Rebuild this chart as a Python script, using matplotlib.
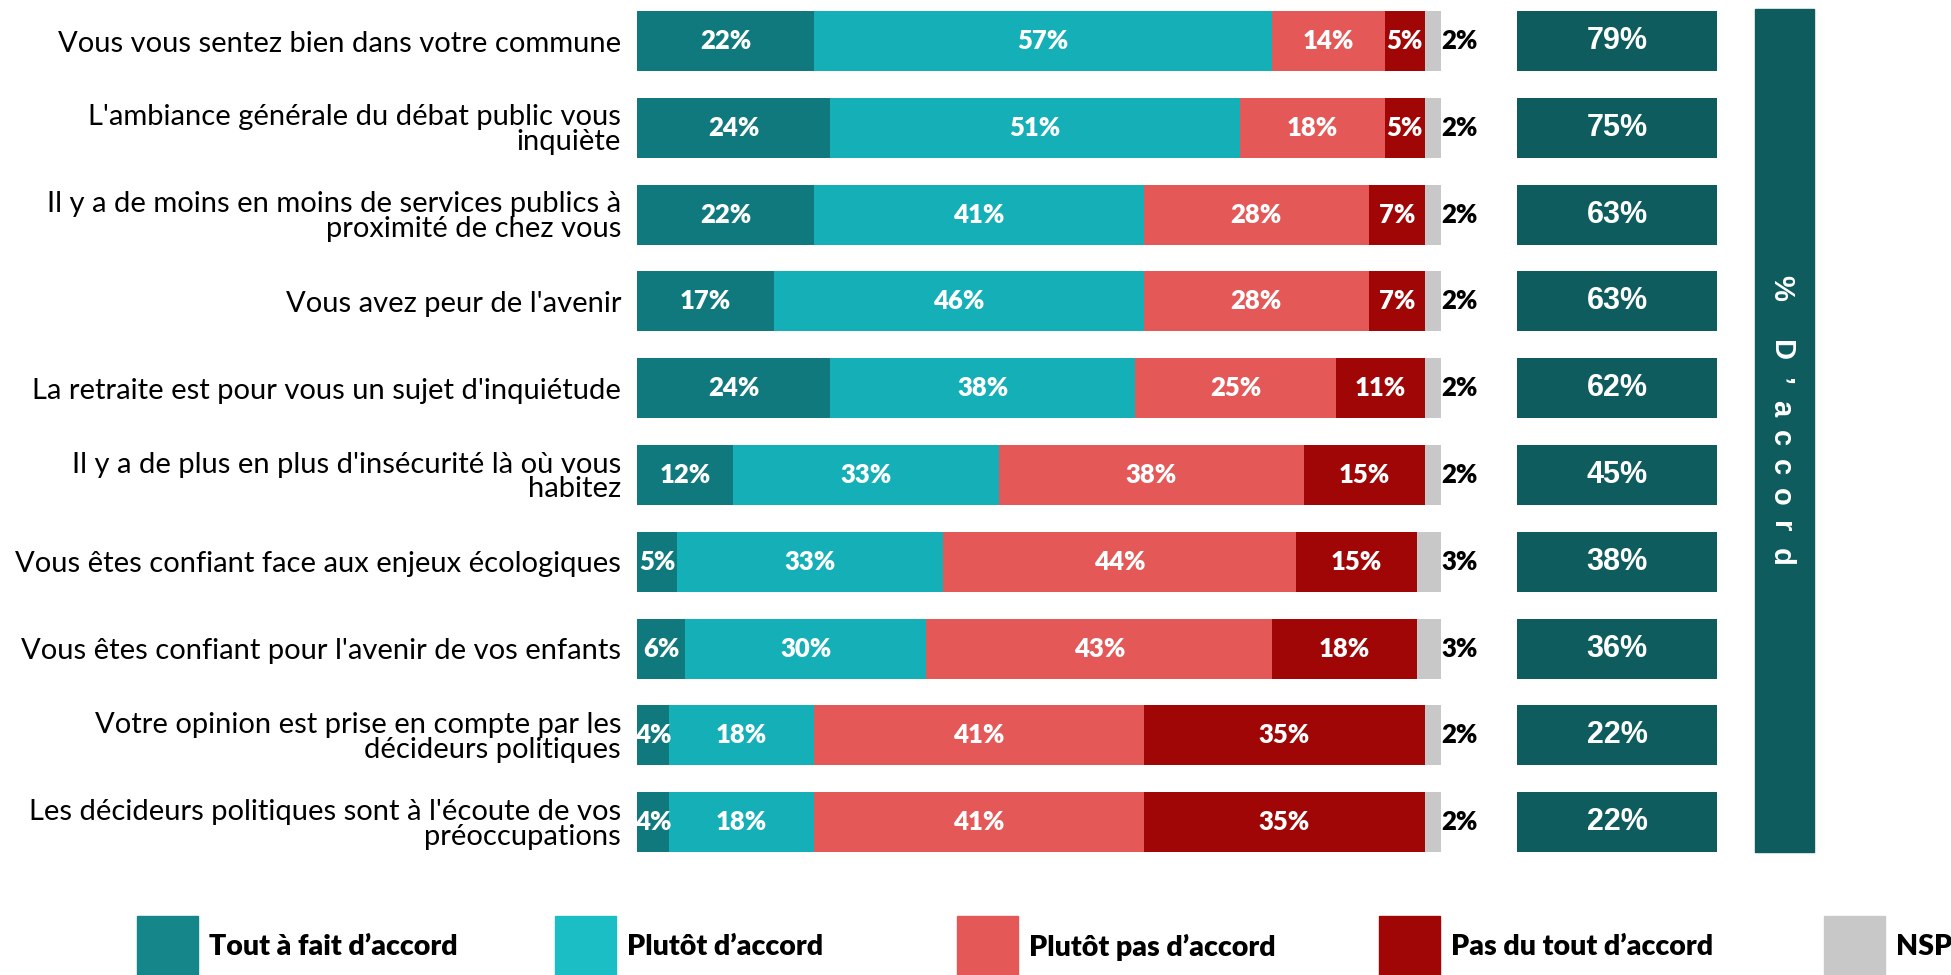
import matplotlib
matplotlib.use("Agg")
import matplotlib.pyplot as plt
import numpy as np
from matplotlib.patches import Rectangle

# Data
categories = [
    "Vous vous sentez bien dans votre commune",
    "L'ambiance générale du débat public vous\ninquiète",
    "Il y a de moins en moins de services publics à\nproximité de chez vous",
    "Vous avez peur de l'avenir",
    "La retraite est pour vous un sujet d'inquiétude",
    "Il y a de plus en plus d'insécurité là où vous\nhabitez",
    "Vous êtes confiant face aux enjeux écologiques",
    "Vous êtes confiant pour l'avenir de vos enfants",
    "Votre opinion est prise en compte par les\ndécideurs politiques",
    "Les décideurs politiques sont à l'écoute de vos\npréoccupations",
]
tout_a_fait = [22, 24, 22, 17, 24, 12, 5, 6, 4, 4]
plutot = [57, 51, 41, 46, 38, 33, 33, 30, 18, 18]
plutot_pas = [14, 18, 28, 28, 25, 38, 44, 43, 41, 41]
pas_du_tout = [5, 5, 7, 7, 11, 15, 15, 18, 35, 35]
nsp = [2, 2, 2, 2, 2, 2, 3, 3, 2, 2]

series_names = ["Tout à fait d’accord", "Plutôt d’accord", "Plutôt pas d’accord",
                "Pas du tout d’accord", "NSP"]
bar_colors = ["#10797D", "#14AFB7", "#E45858", "#A00606", "#C8C8C8"]
legend_colors = ["#15878A", "#1ABEC4", "#E45858", "#A00606", "#C8C8C8"]
box_color = "#0E5C5E"

calibri_like = ["Lato", "DejaVu Sans"]
arial = ["Liberation Sans", "DejaVu Sans"]
heavy = 800

W, H = 1951, 975
fig = plt.figure(figsize=(W / 100, H / 100), dpi=100)


def fx(px):
    return px / W


def fy(py):
    return 1 - py / H


n = len(categories)
y = np.arange(n)
pitch = 86.8
top_px = 41 - 0.5 * pitch
bot_px = 41 + (n - 0.5) * pitch
bar_h = 0.69

# main stacked bars
ax = fig.add_axes([fx(637), fy(bot_px), fx(1441) - fx(637), (bot_px - top_px) / H])
series = [tout_a_fait, plutot, plutot_pas, pas_du_tout, nsp]
left = np.zeros(n)
for k, vals in enumerate(series):
    vals = np.array(vals)
    ax.barh(y, vals, left=left, height=bar_h, color=bar_colors[k], linewidth=0)
    for i in range(n):
        if k < 4:
            ax.text(left[i] + vals[i] / 2, y[i], f"{vals[i]}%", ha="center", va="center",
                    color="white", fontsize=18.5, fontweight=heavy, family=calibri_like)
        else:
            ax.text(left[i] + vals[i], y[i], f"{vals[i]}%", ha="left", va="center",
                    color="black", fontsize=18.5, fontweight=heavy, family=calibri_like)
    left += vals

ax.set_xlim(0, 100)
ax.set_ylim(n - 0.5, -0.5)
ax.set_yticks(y)
ax.set_yticklabels(categories, fontsize=21, family=calibri_like, linespacing=0.95)
ax.tick_params(axis="y", length=0, pad=11.5)
ax.set_xticks([])
for s in ax.spines.values():
    s.set_visible(False)

# total "d'accord" boxes
accord = np.array(tout_a_fait) + np.array(plutot)
ax2 = fig.add_axes([fx(1517), fy(bot_px), fx(1717) - fx(1517), (bot_px - top_px) / H])
ax2.barh(y, np.ones(n), height=bar_h, color=box_color, linewidth=0)
for i in range(n):
    ax2.text(0.5, y[i], f"{accord[i]}%", ha="center", va="center", color="white",
             fontsize=22, fontweight="bold", family=arial)
ax2.set_xlim(0, 1)
ax2.set_ylim(n - 0.5, -0.5)
ax2.axis("off")

# vertical title band, letters spaced out one by one
fig.patches.append(Rectangle((fx(1755), fy(852)), fx(1814) - fx(1755), (852 - 9) / H,
                             transform=fig.transFigure, color=box_color, zorder=0))
title_chars = ["%", "D", "’", "a", "c", "c", "o", "r", "d"]
title_pos = [288, 351, 381, 408, 438, 467, 497, 527, 557]
for ch, py in zip(title_chars, title_pos):
    fig.text(fx(1773), fy(py), ch, rotation=-90, rotation_mode="anchor",
             ha="center", va="baseline", color="white", fontsize=21,
             fontweight="bold", family=arial)

# legend
leg_x = [137, 555, 957, 1379, 1824]
for k, name in enumerate(series_names):
    fig.patches.append(Rectangle((fx(leg_x[k]), 0), fx(61), fy(916),
                                 transform=fig.transFigure, color=legend_colors[k]))
    fig.text(fx(leg_x[k] + 72), fy(947), name, ha="left", va="center", color="black",
             fontsize=20.5, fontweight=heavy, family=calibri_like)

fig.savefig("out.png", dpi=100)
